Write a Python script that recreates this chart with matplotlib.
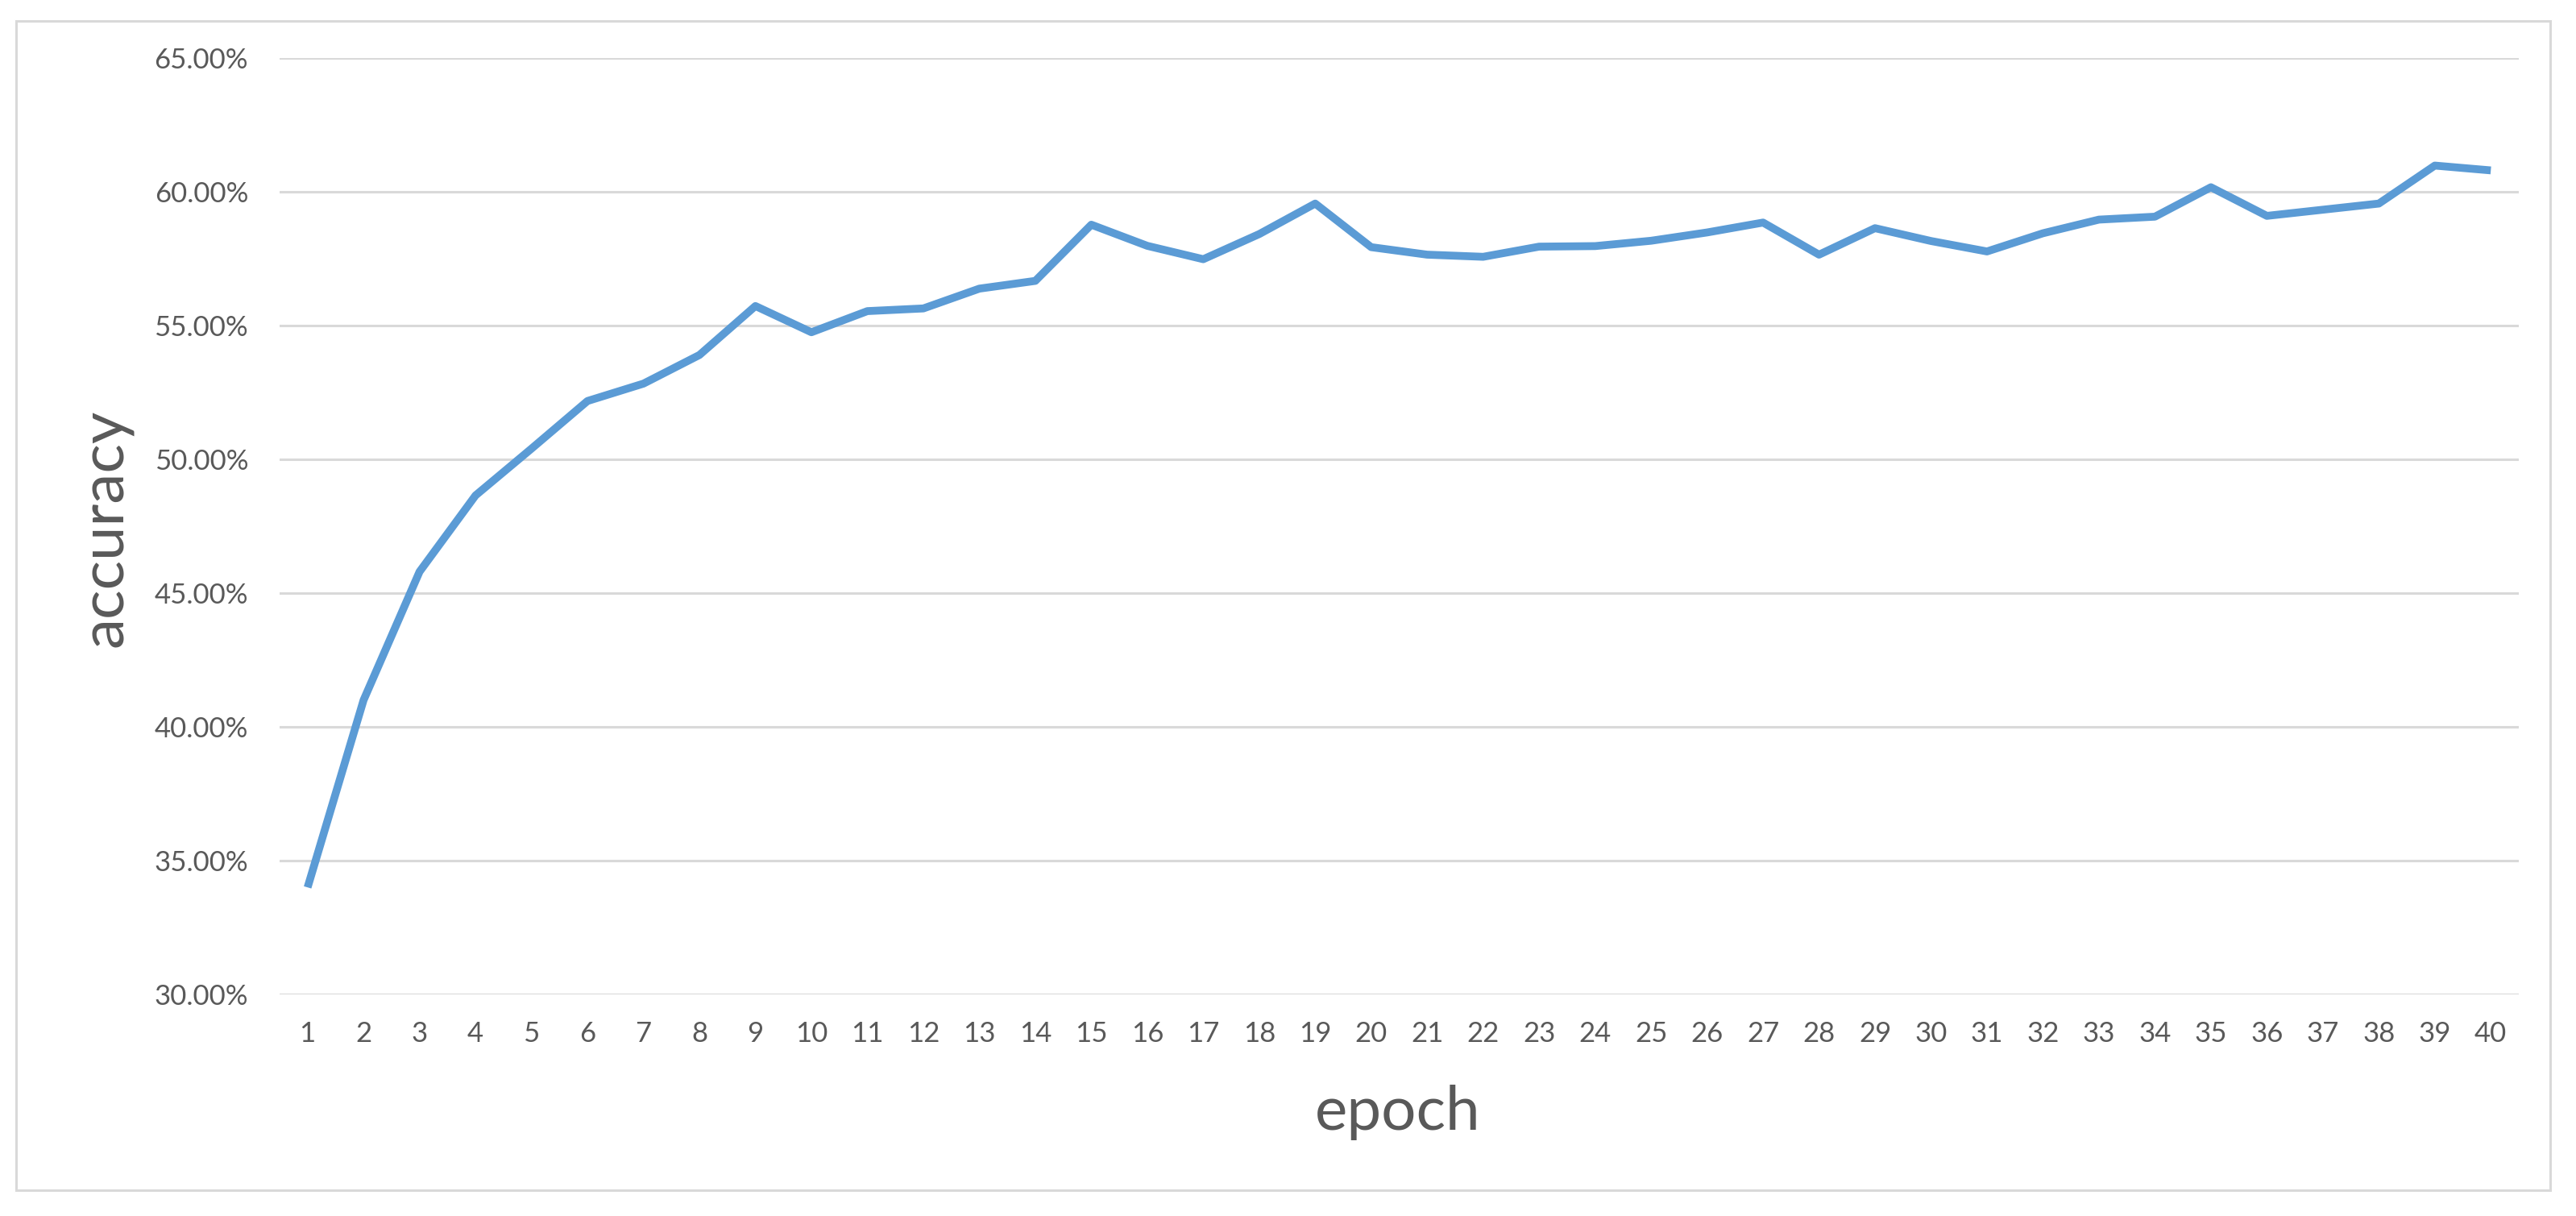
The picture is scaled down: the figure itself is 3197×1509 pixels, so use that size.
import matplotlib
matplotlib.use("Agg")
import matplotlib.pyplot as plt
from matplotlib.patches import Rectangle
from matplotlib.ticker import FuncFormatter

epochs = list(range(1, 41))
accuracy = [34.0, 41.0, 45.8, 48.65, 50.4, 52.18, 52.83, 53.9, 55.73, 54.75,
            55.54, 55.64, 56.38, 56.67, 58.77, 57.98, 57.48, 58.42, 59.56, 57.93,
            57.65, 57.57, 57.95, 57.97, 58.17, 58.48, 58.85, 57.65, 58.64, 58.16,
            57.77, 58.45, 58.96, 59.07, 60.17, 59.1, 59.33, 59.56, 60.98, 60.8]
y_ticks = [30, 35, 40, 45, 50, 55, 60, 65]

plt.rcParams['font.family'] = ['Lato', 'DejaVu Sans']

W, H = 3197, 1509
fig = plt.figure(figsize=(W / 100, H / 100), dpi=100)
fig.patch.set_facecolor('white')

ax = fig.add_axes([347 / W, 1 - 1234 / H, (3126 - 347) / W, (1234 - 72) / H])
xs = list(range(len(epochs)))
ax.plot(xs, accuracy, color='#5B9BD5', linewidth=7, solid_joinstyle='round',
        solid_capstyle='butt', zorder=3)

ax.set_xlim(-0.5, len(epochs) - 0.5)
ax.set_ylim(30, 65)
ax.set_yticks(y_ticks)
ax.yaxis.set_major_formatter(FuncFormatter(lambda v, p: f"{v:.2f}%"))
ax.set_xticks(xs)
ax.set_xticklabels([str(e) for e in epochs])
ax.grid(axis='y', color='#d9d9d9', linewidth=2.2, zorder=1)
ax.grid(axis='x', visible=False)
for s in ax.spines.values():
    s.set_visible(False)
ax.tick_params(axis='both', length=0, labelsize=25, labelcolor='#595959')
ax.tick_params(axis='y', pad=28)
ax.tick_params(axis='x', pad=24)

fig.text(1735 / W, 1 - 1402 / H, 'epoch', ha='center', va='baseline',
         fontsize=55, color='#595959')
fig.text(152 / W, 1 - 655 / H, 'accuracy', ha='center', va='baseline',
         rotation=90, rotation_mode='anchor', fontsize=55, color='#595959')

border = Rectangle((20 / W, 1 - 1477 / H), (3165 - 20) / W, (1477 - 26) / H,
                   transform=fig.transFigure, fill=False, edgecolor='#d9d9d9',
                   linewidth=2.2, zorder=0)
fig.patches.append(border)

fig.savefig('out.png', dpi=100, facecolor='white')
